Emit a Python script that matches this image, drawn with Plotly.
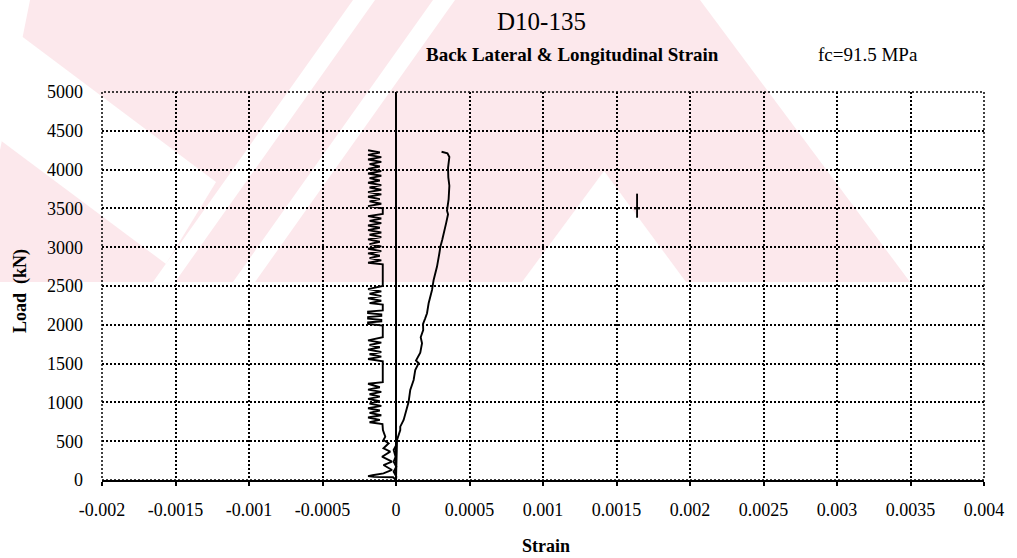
import plotly.graph_objects as go

# ---- data -------------------------------------------------------------
x_tick_vals = [-0.002, -0.0015, -0.001, -0.0005, 0, 0.0005, 0.001, 0.0015,
               0.002, 0.0025, 0.003, 0.0035, 0.004]
x_tick_text = ["-0.002", "-0.0015", "-0.001", "-0.0005", "0", "0.0005", "0.001",
               "0.0015", "0.002", "0.0025", "0.003", "0.0035", "0.004"]
y_tick_vals = [0, 500, 1000, 1500, 2000, 2500, 3000, 3500, 4000, 4500, 5000]
y_tick_text = ["0", "500", "1000", "1500", "2000", "2500", "3000", "3500",
               "4000", "4500", "5000"]

# back lateral gauge (strain, load kN)
lateral_strain = [
    0.0, -0.00002, -0.00015, -0.00019, -0.00016, -0.000085, -0.000027, -0.000085,
    -0.000027, -0.000095, -0.000039, -0.000085, -0.00005, -0.000085, -0.000073,
    -0.000089, -0.000092,
    -0.00018, -0.00011, -0.00019, -0.00010, -0.00018, -0.00011, -0.00019, -0.00010,
    -0.00018, -0.00011, -0.00019, -0.00011, -0.00018, -0.00010, -0.00019, -0.00011,
    -0.00019, -0.00009,
    -0.00009,
    -0.00019, -0.00010, -0.00018, -0.00010, -0.00019, -0.00011, -0.00018, -0.00010,
    -0.00019, -0.00009,
    -0.00009,
    -0.00019, -0.00019, -0.00010, -0.00010, -0.00019, -0.00019, -0.00010, -0.00010,
    -0.00019, -0.00019, -0.00009,
    -0.00009,
    -0.00018, -0.00010, -0.00019, -0.00010, -0.00018, -0.00010, -0.00019, -0.00009,
    -0.00009,
    -0.00019, -0.00010, -0.00018, -0.00011, -0.00019, -0.00010, -0.00019, -0.00010,
    -0.00018, -0.00011, -0.00019, -0.00010, -0.00018, -0.00010, -0.00019, -0.00011,
    -0.00019, -0.00010, -0.00018, -0.00010, -0.00019, -0.00009,
    -0.00009,
    -0.00019, -0.00010, -0.00018, -0.00011, -0.00019, -0.00010, -0.00019, -0.00010,
    -0.00018, -0.00010, -0.00019, -0.00011, -0.00018, -0.00010, -0.00019, -0.00010,
    -0.00019, -0.00011, -0.00018, -0.00010, -0.00019, -0.00010, -0.00019, -0.00011,
    -0.00019,
]
lateral_load = [
    0, 35, 40, 50, 62, 86, 129, 193,
    236, 300, 365, 409, 473, 516, 558,
    644, 720,
    745, 775, 805, 835, 865, 895, 925, 955,
    985, 1015, 1045, 1075, 1105, 1135, 1165, 1195,
    1240, 1260,
    1530,
    1560, 1590, 1620, 1650, 1680, 1710, 1740, 1770,
    1800, 1840,
    1990,
    2010, 2030, 2045, 2065, 2080, 2100, 2115, 2135,
    2150, 2170, 2185,
    2260,
    2280, 2310, 2340, 2370, 2400, 2430, 2460, 2500,
    2780,
    2800, 2830, 2860, 2890, 2920, 2950, 2980, 3010,
    3040, 3070, 3100, 3130, 3160, 3190, 3220, 3250,
    3280, 3310, 3340, 3370, 3400, 3430,
    3500,
    3530, 3560, 3590, 3620, 3650, 3680, 3710, 3740,
    3770, 3800, 3830, 3860, 3890, 3920, 3950, 3980,
    4010, 4040, 4070, 4100, 4130, 4160, 4190, 4220,
    4250,
]

# back longitudinal gauge
longitudinal_strain = [
    0.0, 0.000002, 0.000005, 0.000007, 0.000029, 0.000029, 0.000052, 0.000072,
    0.000086, 0.000097, 0.00012, 0.000131, 0.000154, 0.000136, 0.000165, 0.000177,
    0.000168, 0.000185, 0.000184, 0.000198, 0.000211, 0.000222, 0.000245, 0.000256,
    0.000268, 0.000279, 0.000295, 0.000302, 0.000315, 0.000328, 0.000341, 0.000354,
    0.000347, 0.000358, 0.000363, 0.000356, 0.000354, 0.000363, 0.00035, 0.00031,
]
longitudinal_load = [
    0, 100, 300, 516, 644, 687, 773, 900,
    1009, 1160, 1289, 1418, 1504, 1540, 1640, 1762,
    1840, 1933, 2011, 2080, 2149, 2278, 2449, 2578,
    2664, 2750, 2922, 3007, 3100, 3195, 3310, 3425,
    3470, 3620, 3793, 3900, 4023, 4162, 4210, 4230,
]

# short gauge reading near zero strain at low load
zero_gauge_strain = [0.0, 0.000002, -0.000016, 0.000002, -0.000016, -0.000003,
                     -0.000016, 0.000002]
zero_gauge_load = [0, 43, 107, 171, 236, 300, 387, 451]

# isolated reading
isolated_strain = [0.00164, 0.00164, None, 0.00162, 0.00166]
isolated_load = [3380, 3690, None, 3500, 3500]

# ---- figure ----------------------------------------------------------------
W, H = 1017, 558
L, R, T, B = 102, 33, 92, 78
pw, ph = W - L - R, H - T - B


def px(x):
    return (x - L) / pw


def py(y):
    return (H - B - y) / ph


def poly_path(points):
    return "M " + " L ".join(f"{px(x):.4f},{py(y):.4f}" for x, y in points) + " Z"


fig = go.Figure()

# light page watermark behind the chart (pixel outlines)
pink = "#fce8ec"
watermark_fill = [[(30, 0), (700, 0), (910, 282), (0, 282), (0, 150)]]
watermark_cut = [
    [(0, 20), (216, 182), (166, 264), (0, 140)],
    [(153, 282), (175, 282), (375, 0), (353, 0)],
    [(233, 282), (255, 282), (455, 0), (433, 0)],
    [(604, 171), (686, 282), (522, 282)],
]
for pts in watermark_fill:
    fig.add_shape(type="path", path=poly_path(pts), xref="paper", yref="paper",
                  fillcolor=pink, line=dict(width=0), layer="below")
for pts in watermark_cut:
    fig.add_shape(type="path", path=poly_path(pts), xref="paper", yref="paper",
                  fillcolor="white", line=dict(width=0), layer="below")

line_style = dict(color="black", width=1.9)
for xs, ys in [(lateral_strain, lateral_load),
               (longitudinal_strain, longitudinal_load),
               (zero_gauge_strain, zero_gauge_load),
               (isolated_strain, isolated_load)]:
    fig.add_trace(go.Scatter(x=xs, y=ys, mode="lines", line=line_style,
                             showlegend=False, hoverinfo="skip"))

serif = "Liberation Serif, Times New Roman, serif"
dots = "2px,2px"
grid = dict(showgrid=True, gridcolor="black", gridwidth=1.5, griddash=dots)

fig.update_xaxes(range=[-0.002, 0.004], tickvals=x_tick_vals, ticktext=x_tick_text,
                 showline=True, linecolor="black", linewidth=2,
                 ticks="outside", ticklen=4, tickwidth=1.5, tickcolor="black",
                 ticklabelstandoff=8,
                 zeroline=True, zerolinecolor="black", zerolinewidth=1.5,
                 tickfont=dict(family=serif, size=18, color="black"), **grid)
fig.update_yaxes(range=[0, 5000], tickvals=y_tick_vals, ticktext=y_tick_text,
                 showline=False, zeroline=False, ticks="", ticklabelstandoff=18,
                 tickfont=dict(family=serif, size=18, color="black"), **grid)

# dotted frame on the outer grid positions
fig.add_shape(type="rect", xref="paper", yref="paper", x0=0, x1=1, y0=0, y1=1,
              line=dict(color="black", width=1.5, dash=dots), layer="above")

annotations = [
    dict(text="D10-135", x=px(541), y=py(21), font=dict(family=serif, size=25)),
    dict(text="<b>Back Lateral &amp; Longitudinal Strain</b>", x=px(572), y=py(55),
         font=dict(family=serif, size=19)),
    dict(text="fc=91.5 MPa", x=px(868), y=py(55), font=dict(family=serif, size=19)),
    dict(text="<b>Strain</b>", x=px(546), y=py(546), font=dict(family=serif, size=18)),
    dict(text="<b>Load  (kN)</b>", x=px(20), y=py(291), textangle=-90,
         font=dict(family=serif, size=18)),
]
for a in annotations:
    a.update(xref="paper", yref="paper", showarrow=False,
             xanchor="center", yanchor="middle")
    a["font"]["color"] = "black"

fig.update_layout(width=W, height=H, margin=dict(l=L, r=R, t=T, b=B),
                  paper_bgcolor="white", plot_bgcolor="rgba(0,0,0,0)",
                  annotations=annotations)

fig.write_html("out.html")
